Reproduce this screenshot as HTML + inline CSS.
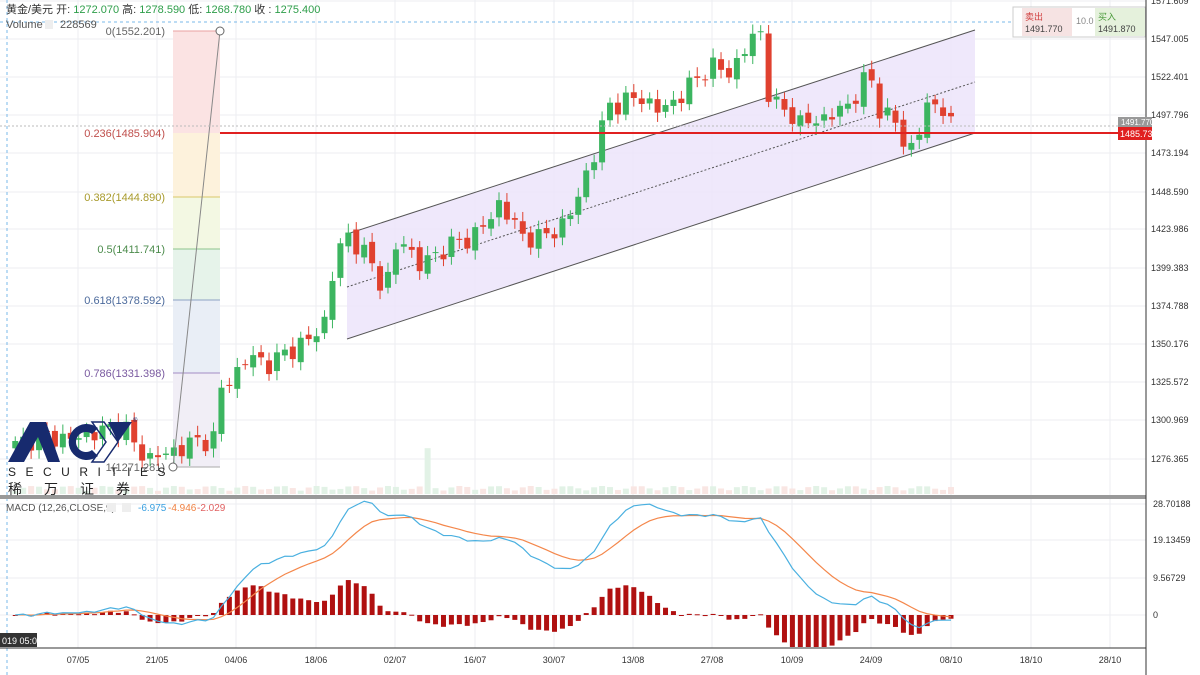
<!DOCTYPE html>
<html><head><meta charset="utf-8"><style>
body{margin:0;background:#fff;width:1200px;height:675px;overflow:hidden;font-family:"Liberation Sans","Noto Sans CJK SC",sans-serif}
svg{display:block}
</style></head><body>
<svg id="s" width="1200" height="675" xmlns="http://www.w3.org/2000/svg" font-family="Liberation Sans, Noto Sans CJK SC, sans-serif">
<rect width="1200" height="675" fill="#fff"/>
<g id="grid" stroke="#eceef2" stroke-width="1"></g>
<polygon points="347,234 975,30 975,133 347,339" fill="#ece4fa" opacity="0.85"/>
<line x1="347" y1="234" x2="975" y2="30" stroke="#555" stroke-width="1"/>
<line x1="347" y1="339" x2="975" y2="133" stroke="#555" stroke-width="1"/>
<line x1="347" y1="287" x2="975" y2="82" stroke="#555" stroke-width="1" stroke-dasharray="2,2"/>
<rect x="173" y="31" width="47" height="102" fill="#fbe3e3"/>
<rect x="173" y="133" width="47" height="64" fill="#fdf2dc"/>
<rect x="173" y="197" width="47" height="52" fill="#f3f8e3"/>
<rect x="173" y="249" width="47" height="51" fill="#e6f3ea"/>
<rect x="173" y="300" width="47" height="73" fill="#e9eef6"/>
<rect x="173" y="373" width="47" height="94" fill="#f1eef6"/>
<g stroke-width="1">
<line x1="173" y1="31" x2="220" y2="31" stroke="#e9a0a0"/>
<line x1="173" y1="197" x2="220" y2="197" stroke="#d9c86a"/>
<line x1="173" y1="249" x2="220" y2="249" stroke="#8cc48c"/>
<line x1="173" y1="300" x2="220" y2="300" stroke="#8da2c4"/>
<line x1="173" y1="373" x2="220" y2="373" stroke="#a38cc4"/>
<line x1="173" y1="467" x2="220" y2="467" stroke="#aaa"/>
</g>
<g font-size="11" text-anchor="end">
<text x="165" y="35" fill="#666">0(1552.201)</text>
<text x="165" y="137" fill="#c0504d">0.236(1485.904)</text>
<text x="165" y="201" fill="#a89a2c">0.382(1444.890)</text>
<text x="165" y="253" fill="#4c8c4c">0.5(1411.741)</text>
<text x="165" y="304" fill="#4c6a9c">0.618(1378.592)</text>
<text x="165" y="377" fill="#7a5aa0">0.786(1331.398)</text>
<text x="165" y="471" fill="#666">1(1271.281)</text>
</g>
<g id="vol"></g>
<g id="candles"></g>
<line x1="173" y1="467" x2="220" y2="31" stroke="#888" stroke-width="1"/>
<circle cx="220" cy="31" r="4" fill="#fff" stroke="#666"/>
<circle cx="173" cy="467" r="4" fill="#fff" stroke="#666"/>
<line x1="220" y1="133" x2="1146" y2="133" stroke="#e02020" stroke-width="2"/>
<line x1="0" y1="126" x2="1146" y2="126" stroke="#bbb" stroke-width="1" stroke-dasharray="2,2"/>
<line x1="0" y1="22" x2="1013" y2="22" stroke="#7ab8e8" stroke-width="1" stroke-dasharray="3,3"/>
<line x1="7" y1="0" x2="7" y2="675" stroke="#7ab8e8" stroke-width="1" stroke-dasharray="3,3"/>
<rect x="0" y="495" width="1146" height="4" fill="#999"/>
<g id="macd"></g>
<line x1="1146" y1="0" x2="1146" y2="675" stroke="#333" stroke-width="1"/>
<line x1="0" y1="648" x2="1146" y2="648" stroke="#333" stroke-width="1"/>
<g id="yl" font-size="9" fill="#333"></g>
<rect x="1118" y="117" width="34" height="10" fill="#999"/>
<text x="1121" y="125" font-size="8" fill="#fff">1491.770</text>
<rect x="1118" y="127" width="34" height="13" fill="#e02020"/>
<text x="1120" y="137" font-size="9" fill="#fff">1485.731</text>
<g font-size="9" fill="#333" text-anchor="middle" id="xl"></g>
<rect x="0" y="633" width="37" height="14" fill="#333"/>
<text x="2" y="644" font-size="9" fill="#fff">019  05:00</text>
<text x="6" y="13" font-size="11" fill="#333">黄金/美元  开: <tspan fill="#2e9e4a">1272.070</tspan> 高: <tspan fill="#2e9e4a">1278.590</tspan> 低: <tspan fill="#2e9e4a">1268.780</tspan> 收 : <tspan fill="#2e9e4a">1275.400</tspan></text>
<text x="6" y="28" font-size="11" fill="#555">Volume</text>
<rect x="45" y="20" width="8" height="9" fill="#eee"/><text x="60" y="28" font-size="11" fill="#555">228569</text>
<text x="6" y="511" font-size="10" fill="#555">MACD (12,26,CLOSE,9)</text>
<rect x="107" y="503" width="9" height="9" fill="#eee"/><rect x="122" y="503" width="9" height="9" fill="#eee"/>
<text x="138" y="511" font-size="10" fill="#3aa0e0">-6.975</text>
<text x="168" y="511" font-size="10" fill="#f08040">-4.946</text>
<text x="197" y="511" font-size="10" fill="#e06060">-2.029</text>
<rect x="1013" y="7" width="132" height="30" fill="#fff" stroke="#ccc"/>
<rect x="1022" y="8" width="50" height="28" fill="#f6e3e3"/>
<rect x="1095" y="8" width="50" height="28" fill="#e5f1dc"/>
<text x="1025" y="20" font-size="9" fill="#d04040">卖出</text>
<text x="1025" y="32" font-size="9" fill="#444">1491.770</text>
<text x="1076" y="24" font-size="9" fill="#888">10.0</text>
<text x="1098" y="20" font-size="9" fill="#4a9a3a">买入</text>
<text x="1098" y="32" font-size="9" fill="#444">1491.870</text>
<g>
<polygon points="8,462 30,422 46,422 60,462 48,462 38,437 24,462" fill="#172a6e"/>
<path d="M98,428 A18,18 0 1 0 98,456 L92,450 A10,10 0 1 1 92,434 Z" fill="#172a6e"/>
<polygon points="92,422 104,422 118,442 104,462 92,462 106,442" fill="none" stroke="#172a6e" stroke-width="1.5"/>
<polygon points="108,422 132,422 118,442" fill="#172a6e"/>
<text x="133" y="422" font-size="6" fill="#172a6e">®</text>
<text x="8" y="476" font-size="12" fill="#222" letter-spacing="9.5">SECURITIES</text>
<text x="8" y="494" font-size="14" fill="#222" letter-spacing="22">稀万证券</text>
</g>
</svg>
<script>
const NS="http://www.w3.org/2000/svg";
function el(p,t,a){const e=document.createElementNS(NS,t);for(const k in a)e.setAttribute(k,a[k]);document.getElementById(p).appendChild(e);return e;}
const Y=p=>39+(1547.005-p)*1.5445;
const ys=[1,39,77,115,153,192,229,268,306,344,382,420,459];
const yv=["1571.609","1547.005","1522.401","1497.796","1473.194","1448.590","1423.986","1399.383","1374.788","1350.176","1325.572","1300.969","1276.365"];
ys.forEach((y,i)=>{el("grid","line",{x1:0,x2:1146,y1:y,y2:y});const t=el("yl","text",{x:1151,y:y+3});t.textContent=yv[i];});
[[504,"28.70188"],[540,"19.13459"],[578,"9.56729"],[615,"0"]].forEach(([y,v])=>{el("grid","line",{x1:0,x2:1146,y1:y,y2:y});const t=el("yl","text",{x:1153,y:y+3});t.textContent=v;});
const xs=[[78,"07/05"],[157,"21/05"],[236,"04/06"],[316,"18/06"],[395,"02/07"],[475,"16/07"],[554,"30/07"],[633,"13/08"],[712,"27/08"],[792,"10/09"],[871,"24/09"],[951,"08/10"],[1031,"18/10"],[1110,"28/10"]];
xs.forEach(([x,l])=>{el("grid","line",{x1:x,x2:x,y1:0,y2:648});const t=el("xl","text",{x:x,y:663});t.textContent=l;});
const kp=[[10,1283],[40,1290],[70,1288],[100,1293],[125,1297],[135,1282],[150,1276],[170,1279],[190,1285],[215,1289],[222,1322],[235,1330],[250,1342],[270,1336],[290,1346],[310,1352],[325,1365],[332,1392],[340,1412],[348,1420],[365,1408],[385,1385],[400,1420],[420,1400],[445,1412],[470,1418],[490,1430],[500,1442],[520,1420],[540,1418],[560,1425],[575,1438],[590,1468],[600,1478],[605,1505],[620,1505],[640,1510],[660,1500],[680,1510],[695,1520],[710,1530],[730,1525],[745,1540],[760,1555],[770,1505],[790,1500],[800,1492],[820,1495],[840,1500],[855,1510],[870,1525],[880,1500],[895,1495],[905,1475],[915,1480],[925,1500],[940,1508],[951,1490]];
function interp(x){for(let i=0;i<kp.length-1;i++){if(x<=kp[i+1][0]){const[a,b]=kp[i],[c,d]=kp[i+1];return b+(d-b)*(x-a)/(c-a);}}return kp[kp.length-1][1];}
const n=119,closes=[],xsC=[];
let prev=1282;
for(let i=0;i<n;i++){
 const x=951-(n-1-i)*7.93;xsC.push(x);
 const c=interp(x)+5*Math.sin(i*2.3)+2.5*Math.cos(i*1.7);
 const o=prev+2*Math.sin(i*3.1);
 const hi=Math.max(o,c)+3+3*Math.abs(Math.sin(i*1.3));
 const lo=Math.min(o,c)-3-3*Math.abs(Math.cos(i*1.9));
 const up=c>=o,col=up?"#3cb560":"#e0412f";
 el("candles","line",{x1:x,x2:x,y1:Y(hi),y2:Y(lo),stroke:col,"stroke-width":1});
 const t=Y(Math.max(o,c)),b=Y(Math.min(o,c));
 el("candles","rect",{x:x-3,y:t,width:6,height:Math.max(1,b-t),fill:col});
 const vh=3+5*Math.abs(Math.sin(i*0.7))+(i==52?38:0);
 el("vol","rect",{x:x-3,y:494-vh,width:6,height:vh,fill:up?"#e2f2e6":"#f9e6e3"});
 closes.push(c);prev=c;
}
function ema(a,p){const k=2/(p+1);let r=[],e=a[0];a.forEach(v=>{e=v*k+e*(1-k);r.push(e)});return r;}
const e12=ema(closes,12),e26=ema(closes,26);
const m=e12.map((v,i)=>v-e26[i]),sg=ema(m,9);
const MY=v=>Math.max(498,Math.min(647,615-v*3.92));
let pb="",po="";
for(let i=0;i<n;i++){
 const x=xsC[i];pb+=(i?"L":"M")+x+","+MY(m[i]);po+=(i?"L":"M")+x+","+MY(sg[i]);
 const h=(m[i]-sg[i])*1.15;const y0=615,y1=Math.max(560,Math.min(647,615-h*3.92));
 el("macd","rect",{x:x-2.5,y:Math.min(y0,y1),width:5,height:Math.max(1,Math.abs(y1-y0)),fill:"#b01010"});
}
el("macd","path",{d:po,fill:"none",stroke:"#f4874b","stroke-width":1.2});
el("macd","path",{d:pb,fill:"none",stroke:"#4ab0e0","stroke-width":1.2});
</script>
</body></html>
